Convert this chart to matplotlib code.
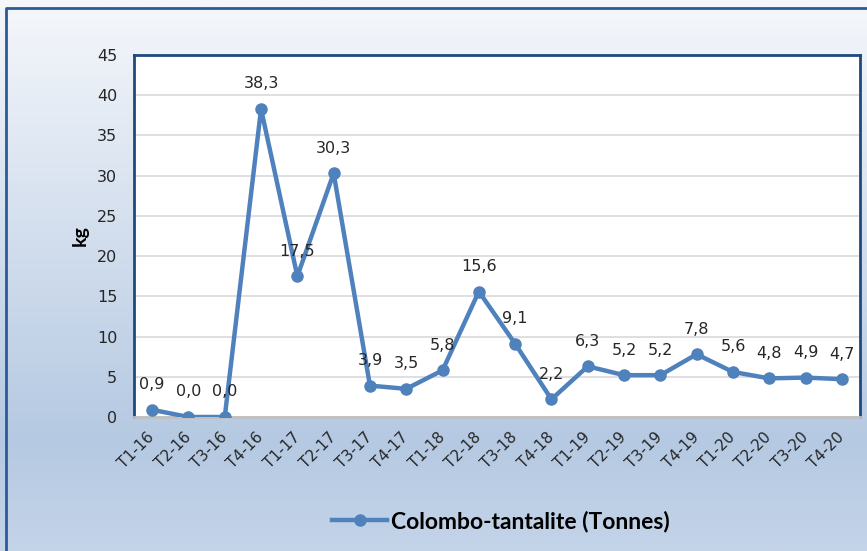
import numpy as np
import matplotlib
matplotlib.use("Agg")
import matplotlib.pyplot as plt
from matplotlib.lines import Line2D

plt.rcParams['font.family'] = ['DejaVu Sans']

# Quarterly data
periods = ["T1-16", "T2-16", "T3-16", "T4-16",
           "T1-17", "T2-17", "T3-17", "T4-17",
           "T1-18", "T2-18", "T3-18", "T4-18",
           "T1-19", "T2-19", "T3-19", "T4-19",
           "T1-20", "T2-20", "T3-20", "T4-20"]
values = [0.9, 0.0, 0.0, 38.3, 17.5, 30.3, 3.9, 3.5, 5.8, 15.6,
          9.1, 2.2, 6.3, 5.2, 5.2, 7.8, 5.6, 4.8, 4.9, 4.7]
series_name = "Colombo-tantalite (Tonnes)"
y_ticks = [0, 5, 10, 15, 20, 25, 30, 35, 40, 45]

W, H = 867, 551
fig = plt.figure(figsize=(W / 100, H / 100), dpi=100)

# gradient background (light at top, blue toward bottom)
bg = fig.add_axes([0, 0, 1, 1], zorder=0)
stops = [0.0, 0.8, 1.0]
cols = np.array([[0xf5, 0xf7, 0xfb], [0xb5, 0xc9, 0xe2], [0xc4, 0xd4, 0xe9]]) / 255
t = np.linspace(0, 1, 300)
grad = np.stack([np.interp(t, stops, cols[:, k]) for k in range(3)], axis=1)
bg.imshow(grad[:, None, :], aspect='auto', extent=[0, W, H, 0])
bg.set_xlim(0, W)
bg.set_ylim(H, 0)
bg.axis('off')
# outer frame
bg.plot([6, 6, W + 5], [H + 5, 8, 8], color='#2c5a97', lw=2, solid_capstyle='butt')

ax = fig.add_axes([134 / W, (H - 417) / H, (860 - 134) / W, (417 - 55) / H], zorder=1)
ax.set_facecolor('white')

x = np.arange(len(periods))
line_color = '#4f81bd'
ax.plot(x, values, color=line_color, lw=3.2, marker='o', markersize=8,
        solid_joinstyle='round', zorder=3)

for xi, v in zip(x, values):
    ax.annotate(("%.1f" % v).replace('.', ','), (xi, v), xytext=(0, 18),
                textcoords='offset points', ha='center', va='center',
                fontsize=11.5, color='#262626', zorder=4)

ax.set_xlim(-0.5, len(periods) - 0.5)
ax.set_ylim(0, 45)
ax.set_yticks(y_ticks)
ax.set_yticklabels([str(v) for v in y_ticks], fontsize=11.5, color='#262626')
ax.set_xticks(x)
ax.set_xticklabels(periods, rotation=45, ha='right', va='center',
                   rotation_mode='anchor', fontsize=11, color='#262626')
ax.tick_params(axis='both', length=0)
ax.tick_params(axis='x', pad=13)
ax.tick_params(axis='y', pad=12)

ax.grid(axis='y', color='#d9d9d9', lw=1.2)
ax.set_axisbelow(True)

for side in ['left', 'top', 'right']:
    ax.spines[side].set_color('#1f497d')
    ax.spines[side].set_linewidth(2)
ax.spines['bottom'].set_color('#bfbfbf')
ax.spines['bottom'].set_linewidth(2)

ax.set_ylabel("kg", fontsize=14, fontweight='bold', color='#000000',
              family='Lato', labelpad=6)

handle = Line2D([], [], color=line_color, lw=3.2, marker='o', markersize=8)
fig.legend([handle], [series_name], loc='center', bbox_to_anchor=(501 / W, 1 - 521 / H),
           frameon=False, prop={'family': 'Lato', 'weight': 'bold', 'size': 16.5},
           handlelength=2.4, handletextpad=0.15)

fig.savefig("out.png", dpi=100)
